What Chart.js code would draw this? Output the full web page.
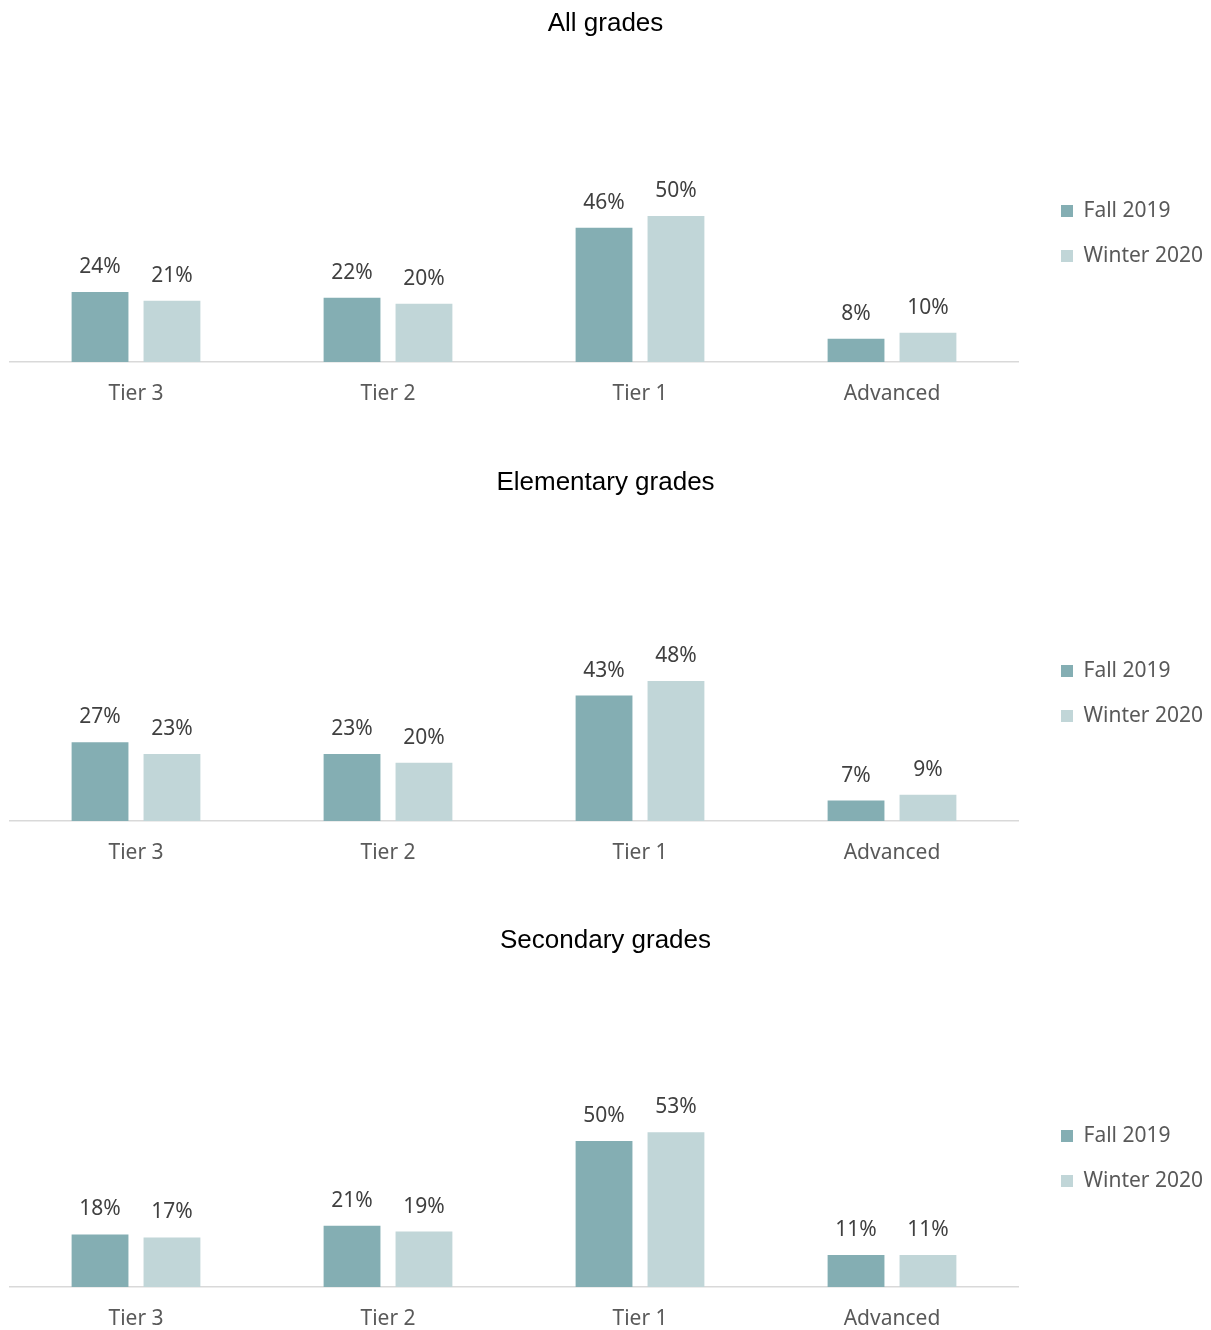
<!DOCTYPE html>
<html>
<head>
<meta charset="utf-8">
<script src="https://cdn.jsdelivr.net/npm/chart.js@4.4.1/dist/chart.umd.min.js"></script>
<style>
  body { margin: 0; background: #fff; }
  .chart-box { position: relative; width: 1211px; }
</style>
</head>
<body>
<div class="chart-box" style="height: 459px"><canvas id="chart-all"></canvas></div>
<div class="chart-box" style="height: 458px"><canvas id="chart-elem"></canvas></div>
<div class="chart-box" style="height: 413px"><canvas id="chart-sec"></canvas></div>
<script>
// Categories and series
const tiers = ["Tier 3", "Tier 2", "Tier 1", "Advanced"];
const seriesNames = ["Fall 2019", "Winter 2020"];

const allFall = [24, 22, 46, 8];
const allWinter = [21, 20, 50, 10];

const elemFall = [27, 23, 43, 7];
const elemWinter = [23, 20, 48, 9];

const secFall = [18, 21, 50, 11];
const secWinter = [17, 19, 53, 11];

const fallColor = "#84aeb3";
const winterColor = "#c1d6d8";

// value labels above each bar
const valueLabels = {
  id: "valueLabels",
  afterDatasetsDraw(chart) {
    const ctx = chart.ctx;
    ctx.save();
    ctx.font = '21px "Noto Sans"';
    ctx.fillStyle = "#404040";
    ctx.textAlign = "center";
    ctx.textBaseline = "middle";
    chart.data.datasets.forEach((ds, i) => {
      chart.getDatasetMeta(i).data.forEach((bar, j) => {
        ctx.fillText(ds.data[j] + "%", bar.x, bar.y - 25);
      });
    });
    ctx.restore();
  },
};

function makeChart(canvasId, titleText, fall, winter, titleGap, bottomPad, legendDrop) {
  var ctx = document.getElementById(canvasId).getContext("2d");
  return new Chart(ctx, {
    type: "bar",
    plugins: [
      valueLabels,
      {
        // keep the plot narrower than the legend column
        beforeInit(chart) {
          const originalFit = chart.legend.fit;
          chart.legend.fit = function fit() {
            originalFit.bind(chart.legend)();
            this.width = 183;
          };
        },
        afterLayout(chart) {
          chart.legend.left += 19;
          chart.legend.right += 19;
          chart.legend.top += legendDrop;
          chart.legend.bottom += legendDrop;
        },
      },
    ],
    data: {
      labels: tiers,
      datasets: [
        {
          label: seriesNames[0],
          data: fall,
          backgroundColor: fallColor,
          borderWidth: 0,
          categoryPercentage: 0.571,
          barPercentage: 0.79,
        },
        {
          label: seriesNames[1],
          data: winter,
          backgroundColor: winterColor,
          borderWidth: 0,
          categoryPercentage: 0.571,
          barPercentage: 0.79,
        },
      ],
    },
    options: {
      responsive: true,
      maintainAspectRatio: false,
      animation: false,
      layout: {
        padding: { left: 10, right: 10, top: 0, bottom: bottomPad },
      },
      plugins: {
        title: {
          display: true,
          text: titleText,
          color: "#000",
          font: { size: 26, family: "Liberation Sans", weight: "normal" },
          padding: { top: 8, bottom: titleGap },
        },
        legend: {
          display: true,
          position: "right",
          align: "center",
          labels: {
            boxWidth: 12,
            boxHeight: 12,
            padding: 24,
            color: "#595959",
            font: { size: 21, family: "Noto Sans" },
          },
        },
        tooltip: { enabled: false },
      },
      scales: {
        y: {
          display: false,
          min: 0,
          max: 100,
        },
        x: {
          afterFit(scale) {
            scale.height = 43;
          },
          grid: {
            display: false,
            drawTicks: false,
          },
          border: {
            display: true,
            color: "#d9d9d9",
            width: 1.5,
          },
          ticks: {
            padding: 19,
            color: "#595959",
            font: { size: 21, family: "Noto Sans" },
          },
        },
      },
    },
  });
}

var chartAll = makeChart("chart-all", "All grades", allFall, allWinter, 31, 54, 31);
var chartElem = makeChart("chart-elem", "Elementary grades", elemFall, elemWinter, 31, 53, 32);
var chartSec = makeChart("chart-sec", "Secondary grades", secFall, secWinter, 39, 0, 35);
</script>
</body>
</html>
